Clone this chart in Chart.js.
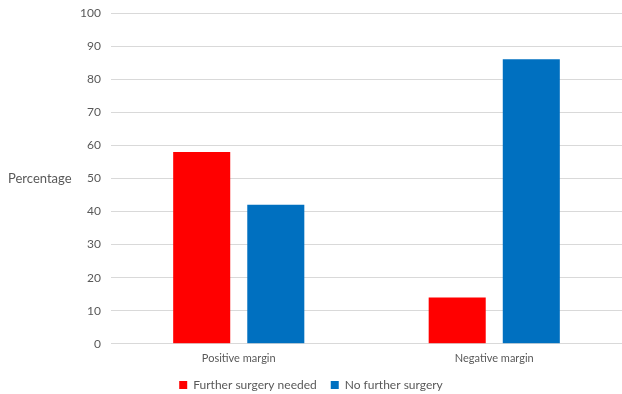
<!DOCTYPE html>
<html>
<head>
<meta charset="utf-8">
<script src="https://cdn.jsdelivr.net/npm/chart.js@4/dist/chart.umd.min.js"></script>
<style>
  html, body { margin: 0; padding: 0; background: #fff; }
  #wrap { width: 622px; height: 394px; }
</style>
</head>
<body>
<div id="wrap"><canvas id="chart" width="622" height="394"></canvas></div>
<script>
const categories = ['Positive margin', 'Negative margin']
const furtherSurgery = [58, 14]
const noFurtherSurgery = [42, 86]
const yTicks = [0, 10, 20, 30, 40, 50, 60, 70, 80, 90, 100]
const yTitle = 'Percentage'

const textColor = '#595959'
const font = { family: 'Lato, "Open Sans", sans-serif', size: 12 }

// Excel puts the axis title horizontally to the left of the ticks
const yTitlePlugin = {
  id: 'yTitle',
  afterDraw(chart) {
    const { ctx, scales } = chart
    const y = scales.y.getPixelForValue(50)
    ctx.save()
    ctx.font = '13px ' + font.family
    ctx.fillStyle = textColor
    ctx.textAlign = 'left'
    ctx.textBaseline = 'middle'
    ctx.fillText(yTitle, 8, y)
    ctx.restore()
  }
}

const ctx = document.querySelector('#chart')
new Chart(ctx, {
  type: 'bar',
  data: {
    labels: categories,
    datasets: [
      {
        label: 'Further surgery needed',
        data: furtherSurgery,
        backgroundColor: '#ff0000',
        categoryPercentage: 0.58,
        barPercentage: 0.77
      },
      {
        label: 'No further surgery',
        data: noFurtherSurgery,
        backgroundColor: '#0070c0',
        categoryPercentage: 0.58,
        barPercentage: 0.77
      }
    ]
  },
  options: {
    responsive: false,
    animation: false,
    layout: { padding: { top: 13, right: 0, bottom: -7, left: 0 } },
    plugins: {
      legend: {
        position: 'bottom',
        labels: {
          boxWidth: 8,
          boxHeight: 8,
          color: textColor,
          font: font,
          padding: 14
        }
      },
      tooltip: { enabled: false }
    },
    scales: {
      x: {
        grid: { display: false },
        border: { color: '#d9d9d9' },
        ticks: { color: textColor, font: { family: font.family, size: 11 }, padding: 0 }
      },
      y: {
        min: 0,
        max: 100,
        afterFit(scale) {
          scale.width = 111
          scale.paddingTop = 0
        },
        afterBuildTicks(scale) { scale.ticks = yTicks.map(v => ({ value: v })) },
        grid: { color: '#d9d9d9', drawTicks: false },
        border: { display: false },
        ticks: { color: textColor, font: font, padding: 10 }
      }
    }
  },
  plugins: [yTitlePlugin]
})
</script>
</body>
</html>
